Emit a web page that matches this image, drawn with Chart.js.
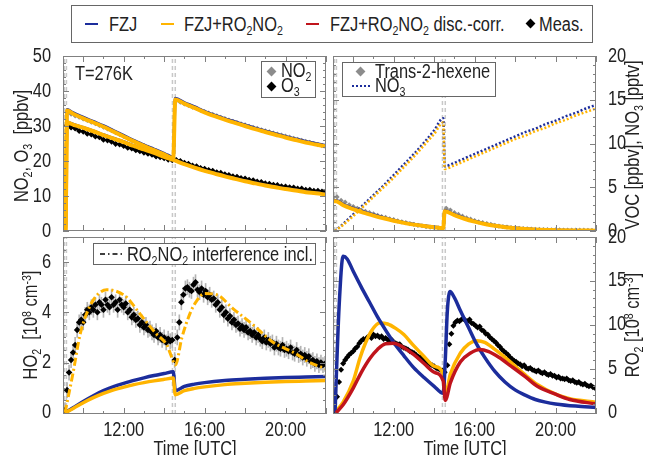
<!DOCTYPE html>
<html>
<head>
<meta charset="utf-8">
<script src="https://cdn.jsdelivr.net/npm/chart.js@4.4.0/dist/chart.umd.min.js"></script>
<style>
body { margin: 0; background: #fff; }
#fig { position: relative; width: 663px; height: 455px; overflow: hidden;
       font-family: 'Liberation Sans', Arial, sans-serif;
       font-size: 20px; color: #222; }
#fig canvas { position: absolute; left: 0; top: 0; }
.t { position: absolute; white-space: nowrap; line-height: 20px; transform: scaleX(0.82); transform-origin: left center; }
.box { position: absolute; border: 1px solid #666; background: #fff; box-sizing: border-box; }
.dash { position: absolute; height: 0; border-top: 2px solid; }
.dia { position: absolute; width: 7px; height: 7px; transform: rotate(45deg); }
sub, sup { font-size: 13px; line-height: 0; }
sub { vertical-align: -4px; }
sup { vertical-align: 6px; }
.vt { position: absolute; white-space: nowrap; line-height: 20px; transform: translate(-50%, -50%) rotate(-90deg) scaleX(0.82); }
.xt { position: absolute; white-space: nowrap; line-height: 20px; transform: translateX(-50%) scaleX(0.82); }
</style>
</head>
<body>
<div id="fig">
  <canvas id="tl" width="663" height="455"></canvas>
  <canvas id="tr" width="663" height="455"></canvas>
  <canvas id="bl" width="663" height="455"></canvas>
  <canvas id="br" width="663" height="455"></canvas>

  <!-- legende oben -->
  <div class="box" style="left:71px;top:5px;width:522px;height:38px;"></div>
  <div class="dash" style="left:85px;top:23px;width:13px;border-color:#1c2d9c;"></div>
  <div class="t" style="left:109px;top:14px;">FZJ</div>
  <div class="dash" style="left:161px;top:23px;width:13px;border-color:#ffb400;"></div>
  <div class="t" style="left:184px;top:14px;">FZJ+RO<sub>2</sub>NO<sub>2</sub></div>
  <div class="dash" style="left:306px;top:23px;width:13px;border-color:#c0141c;"></div>
  <div class="t" style="left:330px;top:14px;">FZJ+RO<sub>2</sub>NO<sub>2</sub> disc.-corr.</div>
  <div class="dia" style="left:527px;top:20px;background:#000;"></div>
  <div class="t" style="left:539px;top:14px;">Meas.</div>

  <!-- panel texte -->
  <div class="t" style="left:75px;top:63px;">T=276K</div>
  <div class="box" style="left:261px;top:61px;width:55px;height:37px;"></div>
  <div class="dia" style="left:268px;top:68px;background:#8c8c8c;"></div>
  <div class="t" style="left:281px;top:60px;">NO<sub>2</sub></div>
  <div class="dia" style="left:268px;top:83px;background:#000;"></div>
  <div class="t" style="left:281px;top:75px;">O<sub>3</sub></div>

  <div class="box" style="left:342px;top:62px;width:154px;height:35px;"></div>
  <div class="dia" style="left:357px;top:68px;background:#8c8c8c;"></div>
  <div class="t" style="left:375px;top:61px;">Trans-2-hexene</div>
  <div class="dash" style="left:352px;top:85px;width:18px;border-top:2px dotted #1c2d9c;"></div>
  <div class="t" style="left:375px;top:75px;">NO<sub>3</sub></div>

  <div class="box" style="left:93px;top:243px;width:223px;height:22px;"></div>
  <svg style="position:absolute;left:100px;top:250px;" width="22" height="8">
    <line x1="0" y1="4" x2="22" y2="4" stroke="#000" stroke-width="1.5" stroke-dasharray="5,3,1.5,3"></line>
  </svg>
  <div class="t" style="left:127px;top:244px;">RO<sub>2</sub>NO<sub>2</sub> interference incl.</div>

  <!-- achsentitel -->
  <div class="vt" style="left:21px;top:146px;">NO<sub>2</sub>, O<sub>3</sub> &nbsp;[ppbv]</div>
  <div class="vt" style="left:30px;top:325px;">HO<sub>2</sub> &nbsp;[10<sup>8</sup> cm<sup>-3</sup>]</div>
  <div class="vt" style="left:632px;top:145px;">VOC [ppbv], NO<sub>3</sub> [pptv]</div>
  <div class="vt" style="left:632px;top:325px;">RO<sub>2</sub> [10<sup>8</sup> cm<sup>-3</sup>]</div>
  <div class="xt" style="left:195px;top:438px;">Time [UTC]</div>
  <div class="xt" style="left:465px;top:438px;">Time [UTC]</div>
</div>

<script>
// ---- Daten (Stunden UTC) ----
const xRange = [9, 22];
const xTickLabels = [12, 16, 20];
const injT = [9.07, 9.17, 14.41, 14.55];   // gestrichelte Linien (Injektionen)

// oben links: NO2 / O3 [ppbv]
const tlRange = [0, 50];
const tlTicks = [0, 10, 20, 30, 40, 50];
const no2T = [9.0, 9.12, 9.2, 9.5, 10, 10.5, 11, 11.5, 12, 12.5, 13, 13.5, 14, 14.45, 14.55, 15, 15.5, 16, 16.5, 17, 17.5, 18, 18.5, 19, 19.5, 20, 20.5, 21, 21.5, 22];
const no2Fzj   = [0, 0, 34.7, 33.8, 32.5, 31.3, 30.1, 28.7, 27.3, 25.9, 24.6, 23.4, 22.2, 21.1, 37.9, 36.7, 35.5, 34.2, 33.1, 32.1, 31.2, 30.3, 29.4, 28.6, 27.8, 27.0, 26.3, 25.6, 25.0, 24.4];
const no2Ro2no2 = [0, 0, 34.4, 33.5, 32.2, 31.0, 29.8, 28.4, 27.0, 25.6, 24.3, 23.1, 21.9, 20.8, 37.6, 36.4, 35.2, 33.9, 32.8, 31.8, 30.9, 30.0, 29.1, 28.3, 27.5, 26.7, 26.0, 25.3, 24.7, 24.1];
const o3T = [9.0, 9.12, 9.2, 9.5, 10, 10.5, 11, 11.5, 12, 12.5, 13, 13.5, 14, 14.45, 15, 15.5, 16, 16.5, 17, 17.5, 18, 18.5, 19, 19.5, 20, 20.5, 21, 21.5, 22];
const o3Fzj     = [0, 0, 31.1, 30.5, 29.6, 28.6, 27.5, 26.5, 25.5, 24.4, 23.4, 22.4, 21.3, 20.4, 19.2, 18.2, 17.3, 16.5, 15.7, 15.0, 14.3, 13.7, 13.1, 12.6, 12.1, 11.7, 11.2, 10.9, 10.5];
const o3Ro2no2  = [0, 0, 31.0, 30.4, 29.5, 28.5, 27.4, 26.4, 25.4, 24.3, 23.3, 22.3, 21.2, 20.3, 19.1, 18.1, 17.2, 16.4, 15.6, 14.9, 14.2, 13.6, 13.0, 12.5, 12.0, 11.6, 11.1, 10.8, 10.4];
const measT = [9.2, 9.4, 9.6, 9.8, 10.0, 10.2, 10.4, 10.6, 10.8, 11.0, 11.2, 11.4, 11.6, 11.8, 12.0, 12.2, 12.4, 12.6, 12.8, 13.0, 13.2, 13.4, 13.6, 13.8, 14.0, 14.2, 14.4,
               14.6, 14.8, 15.0, 15.2, 15.4, 15.6, 15.8, 16.0, 16.2, 16.4, 16.6, 16.8, 17.0, 17.2, 17.4, 17.6, 17.8, 18.0, 18.2, 18.4, 18.6, 18.8, 19.0, 19.2, 19.4, 19.6, 19.8, 20.0, 20.2, 20.4, 20.6, 20.8, 21.0, 21.2, 21.4, 21.6, 21.8, 22.0];
const no2Meas = [33.8, 33.4, 32.9, 32.5, 32.0, 31.6, 31.1, 30.7, 30.2, 29.7, 29.2, 28.7, 28.1, 27.6, 27.0, 26.5, 25.9, 25.4, 24.9, 24.4, 23.9, 23.4, 22.9, 22.4, 21.9, 21.4, 20.9,
                 37.2, 36.8, 36.3, 35.9, 35.4, 35.0, 34.5, 34.1, 33.7, 33.3, 32.9, 32.5, 32.1, 31.7, 31.3, 31.0, 30.6, 30.3, 29.9, 29.6, 29.3, 28.9, 28.6, 28.3, 28.0, 27.7, 27.4, 27.1, 26.8, 26.5, 26.2, 25.9, 25.6, 25.3, 25.0, 24.7, 24.4, 24.1];
const o3Meas = [30.2, 29.6, 29.3, 28.6, 28.4, 27.8, 27.6, 27.0, 26.8, 26.1, 25.9, 25.5, 24.9, 24.7, 24.3, 23.8, 23.6, 23.1, 22.8, 22.4, 22.1, 21.8, 21.3, 21.1, 20.8, 20.4, 20.2,
                20.3, 20.0, 19.5, 19.2, 18.7, 18.5, 18.0, 17.8, 17.4, 17.2, 16.8, 16.6, 16.2, 16.0, 15.6, 15.5, 15.1, 15.0, 14.6, 14.5, 14.1, 14.0, 13.6, 13.5, 13.2, 13.1, 12.8, 12.7, 12.5, 12.4, 12.1, 12.1, 11.8, 11.8, 11.5, 11.5, 11.3, 11.2];

// oben rechts: VOC [ppbv], NO3 [pptv]
const trRange = [0, 20];
const trTicks = [0, 5, 10, 15, 20];
const vocT = [9.0, 9.15, 9.5, 10, 10.5, 11, 11.5, 12, 12.5, 13, 13.5, 14, 14.45, 14.52, 15, 15.5, 16, 16.5, 17, 17.5, 18, 19, 20, 21, 22];
const vocFzj    = [3.5, 3.5, 3.05, 2.6, 2.2, 1.85, 1.52, 1.23, 0.98, 0.77, 0.6, 0.45, 0.35, 2.35, 1.9, 1.47, 1.12, 0.84, 0.62, 0.46, 0.34, 0.18, 0.1, 0.06, 0.04];
const vocRo2no2 = [3.4, 3.4, 2.95, 2.5, 2.1, 1.76, 1.45, 1.17, 0.93, 0.73, 0.57, 0.43, 0.33, 2.25, 1.82, 1.4, 1.07, 0.8, 0.59, 0.44, 0.32, 0.17, 0.1, 0.06, 0.04];
const vocMeasT = [9.0, 9.2, 9.4, 9.6, 9.8, 10.0, 10.2, 10.4, 10.6, 10.8, 11.0, 11.2, 11.4, 11.6, 11.8, 12.0, 12.2, 12.4, 12.6, 12.8, 13.0, 13.2, 13.4, 13.6, 13.8, 14.0, 14.2, 14.4,
                  14.6, 14.8, 15.0, 15.2, 15.4, 15.6, 15.8, 16.0, 16.2, 16.4, 16.6, 16.8, 17.0, 17.2, 17.4, 17.6, 17.8, 18.0, 18.2, 18.4, 18.6, 18.8, 19.0, 19.2, 19.4, 19.6, 19.8, 20.0, 20.2, 20.4, 20.6, 20.8, 21.0, 21.2, 21.4, 21.6, 21.8, 22.0];
const vocMeas = [3.8, 3.9, 3.5, 3.3, 3.0, 2.8, 2.6, 2.4, 2.25, 2.1, 1.95, 1.8, 1.65, 1.55, 1.4, 1.3, 1.15, 1.05, 0.95, 0.85, 0.75, 0.65, 0.6, 0.5, 0.45, 0.4, 0.35, 0.3,
                  2.6, 2.4, 2.1, 1.9, 1.7, 1.5, 1.35, 1.2, 1.05, 0.95, 0.85, 0.75, 0.65, 0.55, 0.5, 0.45, 0.4, 0.35, 0.3, 0.28, 0.25, 0.22, 0.2, 0.18, 0.16, 0.15, 0.14, 0.12, 0.12, 0.11, 0.1, 0.1, 0.1, 0.09, 0.09, 0.08, 0.08, 0.08];
const no3T = [9.1, 9.5, 10, 10.5, 11, 11.5, 12, 12.5, 13, 13.5, 14, 14.45, 14.52, 15, 15.5, 16, 16.5, 17, 17.5, 18, 18.5, 19, 19.5, 20, 20.5, 21, 21.5, 22];
const no3Fzj    = [0, 0.8, 1.9, 3.0, 4.1, 5.2, 6.4, 7.6, 8.8, 10.1, 11.5, 12.9, 7.4, 7.8, 8.3, 8.8, 9.3, 9.8, 10.3, 10.8, 11.3, 11.7, 12.2, 12.6, 13.1, 13.5, 14.0, 14.4];
const no3Ro2no2 = [0, 0.7, 1.7, 2.8, 3.9, 5.0, 6.1, 7.3, 8.5, 9.8, 11.1, 12.4, 7.1, 7.5, 8.0, 8.5, 9.0, 9.5, 10.0, 10.5, 10.9, 11.4, 11.8, 12.3, 12.7, 13.2, 13.6, 14.0];

// Radikal-Messzeiten (HO2 und RO2)
const radT = [9.1, 9.2, 9.3, 9.4, 9.5, 9.6, 9.7, 9.8, 9.9, 10.0, 10.1, 10.2, 10.3, 10.4, 10.5, 10.6, 10.7, 10.8, 10.9, 11.0,
              11.1, 11.2, 11.3, 11.4, 11.5, 11.6, 11.7, 11.8, 11.9, 12.0, 12.1, 12.2, 12.3, 12.4, 12.5, 12.6, 12.7, 12.8, 12.9, 13.0,
              13.1, 13.2, 13.3, 13.4, 13.5, 13.6, 13.7, 13.8, 13.9, 14.0, 14.1, 14.2, 14.3, 14.4, 14.52, 14.65, 14.75,
              14.85, 14.95, 15.05, 15.15, 15.25, 15.35, 15.45, 15.55, 15.65, 15.75, 15.85, 15.95, 16.05, 16.15, 16.25, 16.35, 16.45, 16.55,
              16.65, 16.75, 16.85, 16.95, 17.05, 17.15, 17.25, 17.35, 17.45, 17.55, 17.65, 17.75, 17.85, 17.95, 18.05, 18.15, 18.25, 18.35,
              18.45, 18.55, 18.65, 18.75, 18.85, 18.95, 19.05, 19.15, 19.25, 19.35, 19.45, 19.55, 19.65, 19.75, 19.85, 19.95, 20.05, 20.15,
              20.25, 20.35, 20.45, 20.55, 20.65, 20.75, 20.85, 20.95, 21.05, 21.15, 21.25, 21.35, 21.45, 21.55, 21.65, 21.75, 21.85, 21.95];

// unten links: HO2 [1e8 cm-3]
const blRange = [-0.05, 7];
const blTicks = [0, 2, 4, 6];
const ho2Err = 0.3;
const ho2Meas = [0.1, 0.9, 1.6, 2.1, 2.4, 2.7, 3.3, 3.6, 3.7, 3.6, 3.9, 4.1, 4.0, 4.2, 4.1, 4.3, 4.0, 4.4, 4.3, 4.1,
                 4.5, 4.3, 4.2, 4.6, 4.3, 4.4, 4.1, 4.5, 4.3, 4.2, 4.35, 4.0, 4.1, 3.8, 3.9, 3.7, 3.75, 3.5, 3.6, 3.4,
                 3.5, 3.3, 3.35, 3.2, 3.1, 3.25, 3.0, 3.1, 2.9, 3.0, 2.8, 2.95, 2.85, 2.9, 2.1, 3.0, 3.6,
                 4.4, 4.7, 4.95, 5.0, 4.9, 4.85, 5.1, 5.2, 4.9, 4.8, 4.95, 4.7, 4.85, 4.6, 4.7, 4.5, 4.55, 4.3,
                 4.4, 4.1, 4.2, 3.9, 4.0, 3.75, 3.85, 3.6, 3.7, 3.5, 3.55, 3.35, 3.45, 3.3, 3.4, 3.2, 3.25, 3.1,
                 3.2, 3.0, 3.1, 2.95, 2.85, 3.0, 2.8, 2.9, 2.75, 2.8, 2.6, 2.75, 2.6, 2.55, 2.7, 2.5, 2.55, 2.45,
                 2.6, 2.4, 2.35, 2.5, 2.3, 2.35, 2.2, 2.3, 2.15, 2.25, 2.05, 2.1, 1.95, 2.05, 1.9, 2.0, 1.9, 1.95];
const hoT = [9.1, 9.5, 10, 10.5, 11, 11.5, 12, 12.5, 13, 13.5, 14, 14.45, 14.55, 15, 15.5, 16, 17, 18, 19, 20, 21, 22];
const ho2Fzj    = [0, 0.2, 0.45, 0.68, 0.88, 1.04, 1.17, 1.29, 1.39, 1.48, 1.56, 1.63, 0.88, 1.05, 1.14, 1.2, 1.28, 1.33, 1.37, 1.4, 1.42, 1.44];
const ho2Ro2no2 = [0, 0.17, 0.4, 0.6, 0.77, 0.91, 1.02, 1.12, 1.2, 1.27, 1.33, 1.38, 0.72, 0.88, 0.97, 1.03, 1.12, 1.17, 1.21, 1.24, 1.26, 1.28];
const hoIntT = [9.1, 9.5, 9.84, 10.3, 10.7, 11.16, 11.6, 12.15, 12.6, 13.14, 13.6, 14.13, 14.38, 14.55, 14.88, 15.3, 15.6, 16.0, 16.6, 17.4, 18.4, 19.4, 20.4, 21.2, 22];
const ho2Interf = [0, 1.6, 3.1, 4.2, 4.7, 4.9, 4.85, 4.6, 4.15, 3.6, 3.15, 2.7, 2.2, 1.9, 3.0, 4.0, 4.45, 4.75, 4.7, 4.15, 3.5, 2.8, 2.4, 2.0, 1.75];

// unten rechts: RO2 [1e8 cm-3]
const brRange = [-0.15, 20];
const brTicks = [0, 5, 10, 15, 20];
const ro2Meas = [0.2, 1.8, 3.5, 4.9, 5.6, 6.0, 6.3, 6.6, 6.8, 7.0, 7.3, 7.5, 7.9, 8.2, 8.4, 8.3, 8.6, 8.7, 8.5, 8.9,
                 8.7, 8.8, 8.6, 8.7, 8.4, 8.5, 8.3, 8.2, 8.3, 8.0, 7.9, 7.8, 7.8, 7.5, 7.4, 7.3, 7.2, 7.0, 6.9, 6.8,
                 6.6, 6.4, 6.3, 6.1, 6.0, 5.8, 5.7, 5.5, 5.4, 5.3, 5.1, 5.0, 4.9, 4.8, 4.6, 5.4, 7.8,
                 9.0, 9.9, 10.3, 10.5, 10.4, 10.6, 10.7, 10.5, 10.4, 10.6, 10.2, 10.1, 9.9, 9.7, 9.8, 9.4, 9.3, 9.0,
                 8.9, 8.6, 8.4, 8.2, 8.0, 7.7, 7.5, 7.2, 7.0, 6.8, 6.6, 6.3, 6.1, 5.9, 5.8, 5.6, 5.5, 5.3,
                 5.4, 5.1, 5.0, 5.1, 4.9, 4.8, 4.7, 4.8, 4.6, 4.5, 4.6, 4.4, 4.3, 4.4, 4.2, 4.2, 4.0, 4.1,
                 3.9, 3.9, 3.8, 3.9, 3.7, 3.6, 3.7, 3.5, 3.4, 3.5, 3.3, 3.2, 3.3, 3.1, 3.0, 3.1, 2.9, 2.8];
const roFzjT = [9.1, 9.3, 9.5, 9.7, 10, 10.4, 10.8, 11.2, 11.6, 12, 12.5, 13, 13.5, 14, 14.45, 14.55, 14.65, 14.78, 15, 15.3, 15.7, 16.1, 16.5, 17, 17.5, 18, 18.5, 19, 19.5, 20, 21, 22];
const ro2Fzj = [0, 12, 17.8, 17.5, 16.1, 14.3, 12.6, 10.9, 9.4, 8.0, 6.5, 5.1, 4.0, 3.0, 2.2, 6.0, 11.5, 13.8, 13.1, 11.6, 9.7, 7.8, 6.3, 4.7, 3.5, 2.6, 2.0, 1.5, 1.2, 1.0, 0.75, 0.6];
const roRo2no2T = [9.1, 9.5, 10, 10.33, 10.6, 10.9, 11.3, 11.7, 12.1, 12.5, 13, 13.5, 14, 14.45, 14.55, 14.8, 15.3, 15.7, 16.1, 16.5, 17, 17.5, 18, 18.5, 19.1, 20, 20.7, 22];
const ro2Ro2no2 = [0, 1.2, 3.6, 6.2, 7.9, 9.3, 10.2, 10.1, 9.6, 8.9, 7.6, 6.4, 5.3, 4.4, 2.0, 4.4, 6.8, 7.8, 8.2, 8.0, 7.2, 6.3, 5.3, 4.3, 3.2, 2.1, 1.6, 1.2];
const roCorrT = [9.15, 9.5, 10, 10.4, 10.83, 11.2, 11.6, 12, 12.5, 13, 13.5, 14, 14.45, 14.55, 14.8, 15.3, 15.8, 16.25, 16.7, 17.2, 17.8, 18.5, 19.1, 20, 20.7, 22];
const ro2Corr = [0, 0.9, 2.8, 4.6, 6.2, 7.2, 7.85, 7.9, 7.4, 6.6, 5.6, 4.6, 3.6, 1.4, 3.4, 5.8, 6.8, 7.2, 6.95, 6.3, 5.3, 4.1, 3.0, 2.1, 1.5, 1.0];

// ---- Zeichnen ----
const BLUE = '#1c2d9c', ORANGE = '#ffb400', RED = '#c0141c', GRAY = '#8c8c8c';
Chart.defaults.font.family = "'Liberation Sans', Arial, sans-serif";
Chart.defaults.font.size = 20;
Chart.defaults.color = '#222';

function pts(t, v) { return t.map((x, i) => ({ x, y: v[i] })); }

function model(t, v, color, w, extra) {
    return Object.assign({ type: 'line', data: pts(t, v), borderColor: color, borderWidth: w,
        pointRadius: 0, fill: false, cubicInterpolationMode: 'monotone' }, extra);
}

function meas(t, v, color, r, extra) {
    return Object.assign({ type: 'line', data: pts(t, v), showLine: false, pointStyle: 'rectRot',
        pointRadius: r, backgroundColor: color, borderColor: color, borderWidth: 0, order: 8 }, extra);
}

function vlines(range) {
    return injT.map(t => ({ type: 'line', data: [{ x: t, y: range[0] }, { x: t, y: range[1] }],
        borderColor: '#c8c8c8', borderWidth: 1.5, borderDash: [4, 3], pointRadius: 0, order: 20 }));
}

// schmale Schrift: Text horizontal stauchen (keine Narrow-Schrift installiert)
const narrowText = {
    id: 'narrowText',
    beforeDraw(chart) {
        const ctx = chart.ctx;
        if (ctx._narrow) return;
        const orig = ctx.fillText;
        ctx.fillText = function (s, x, y) {
            this.save();
            this.translate(x, y);
            this.scale(0.82, 1);
            orig.call(this, s, 0, 0);
            this.restore();
        };
        ctx._narrow = true;
    }
};

// Rahmen mit nach innen zeigenden Ticks (wie im Original)
const boxTicks = {
    id: 'boxTicks',
    afterDatasetsDraw(chart, args, o) {
        const { ctx, chartArea: a, scales: { x, y } } = chart;
        ctx.save();
        ctx.strokeStyle = '#808080';
        ctx.lineWidth = 1;
        ctx.beginPath();
        for (let h = xRange[0]; h <= xRange[1]; h++) {
            const px = Math.round(x.getPixelForValue(h)) + 0.5;
            const len = h % 2 === 0 ? 6 : 3;
            ctx.moveTo(px, a.bottom); ctx.lineTo(px, a.bottom - len);
            ctx.moveTo(px, a.top); ctx.lineTo(px, a.top + len);
        }
        const n0 = Math.ceil(y.min / o.minor), n1 = Math.floor(y.max / o.minor);
        for (let i = n0; i <= n1; i++) {
            const v = i * o.minor;
            const py = Math.round(y.getPixelForValue(v)) + 0.5;
            const r = v / o.major;
            const len = Math.abs(r - Math.round(r)) < 1e-6 ? 6 : 3;
            ctx.moveTo(a.left, py); ctx.lineTo(a.left + len, py);
            ctx.moveTo(a.right, py); ctx.lineTo(a.right - len, py);
        }
        ctx.stroke();
        ctx.strokeRect(a.left + 0.5, a.top + 0.5, a.right - a.left - 1, a.bottom - a.top - 1);
        ctx.restore();
    }
};

function panel(id, area, yPos, yRange, yTicks, showX, minor, major, datasets) {
    const [l, t, r, b] = area;
    return new Chart(document.getElementById(id), {
        type: 'line',
        data: { datasets },
        options: {
            responsive: false, animation: false, devicePixelRatio: 1,
            layout: { padding: { left: yPos === 'left' ? 0 : l, right: yPos === 'right' ? 0 : 663 - r,
                                 top: t, bottom: showX ? 0 : 455 - b } },
            plugins: { legend: { display: false }, tooltip: { enabled: false }, boxTicks: { minor, major } },
            scales: {
                x: {
                    type: 'linear', min: xRange[0], max: xRange[1], offset: false, display: showX,
                    grid: { display: false }, border: { display: false },
                    afterBuildTicks: s => { s.ticks = xTickLabels.map(v => ({ value: v })); },
                    afterFit: s => { if (showX) s.height = 455 - b; },
                    ticks: { padding: -4, maxRotation: 0, autoSkip: false, callback: v => v + ':00' }
                },
                y: {
                    type: 'linear', position: yPos, min: yRange[0], max: yRange[1],
                    grid: { display: false }, border: { display: false },
                    afterBuildTicks: s => { s.ticks = yTicks.map(v => ({ value: v })); },
                    afterFit: s => { s.width = yPos === 'left' ? l : 663 - r; },
                    ticks: { padding: 4, autoSkip: false }
                }
            }
        },
        plugins: [narrowText, boxTicks]
    });
}

panel('tl', [63, 56, 326, 231], 'left', tlRange, tlTicks, false, 2, 10, [
    ...vlines(tlRange),
    meas(measT, no2Meas, GRAY, 2.6),
    meas(measT, o3Meas, '#000', 2, { showLine: true, borderWidth: 1.5, order: 7 }),
    model(no2T, no2Fzj, BLUE, 3, { order: 4 }),
    model(o3T, o3Fzj, BLUE, 3, { order: 4 }),
    model(no2T, no2Ro2no2, ORANGE, 4, { order: 2 }),
    model(o3T, o3Ro2no2, ORANGE, 4, { order: 2 })
]);

panel('tr', [333, 56, 596, 231], 'right', trRange, trTicks, false, 1, 5, [
    ...vlines(trRange),
    meas(vocMeasT, vocMeas, GRAY, 2.6),
    model(vocT, vocFzj, BLUE, 3, { order: 4 }),
    model(vocT, vocRo2no2, ORANGE, 4, { order: 2 }),
    model(no3T, no3Fzj, BLUE, 2.5, { borderDash: [2, 2], order: 3 }),
    model(no3T, no3Ro2no2, ORANGE, 2.5, { borderDash: [2, 2], order: 2 })
]);

panel('bl', [63, 237, 326, 414], 'left', blRange, blTicks, true, 0.5, 2, [
    ...vlines(blRange),
    { type: 'bar', data: radT.map((x, i) => ({ x, y: [ho2Meas[i] - ho2Err, ho2Meas[i] + ho2Err] })),
      backgroundColor: '#b4b4b4', barThickness: 1, grouped: false, order: 15 },
    meas(radT, ho2Meas, '#000', 3.3),
    model(hoT, ho2Fzj, BLUE, 3.5, { order: 4 }),
    model(hoT, ho2Ro2no2, ORANGE, 3.5, { order: 3 }),
    model(hoIntT, ho2Interf, ORANGE, 3, { borderDash: [8, 3, 2, 3], order: 2 })
]);

panel('br', [333, 237, 596, 414], 'right', brRange, brTicks, true, 1, 5, [
    ...vlines(brRange),
    meas(radT, ro2Meas, '#000', 3),
    model(roFzjT, ro2Fzj, BLUE, 3.5, { order: 3 }),
    model(roRo2no2T, ro2Ro2no2, ORANGE, 3.5, { order: 4 }),
    model(roCorrT, ro2Corr, RED, 3.5, { order: 2 })
]);
</script>
</body>
</html>
